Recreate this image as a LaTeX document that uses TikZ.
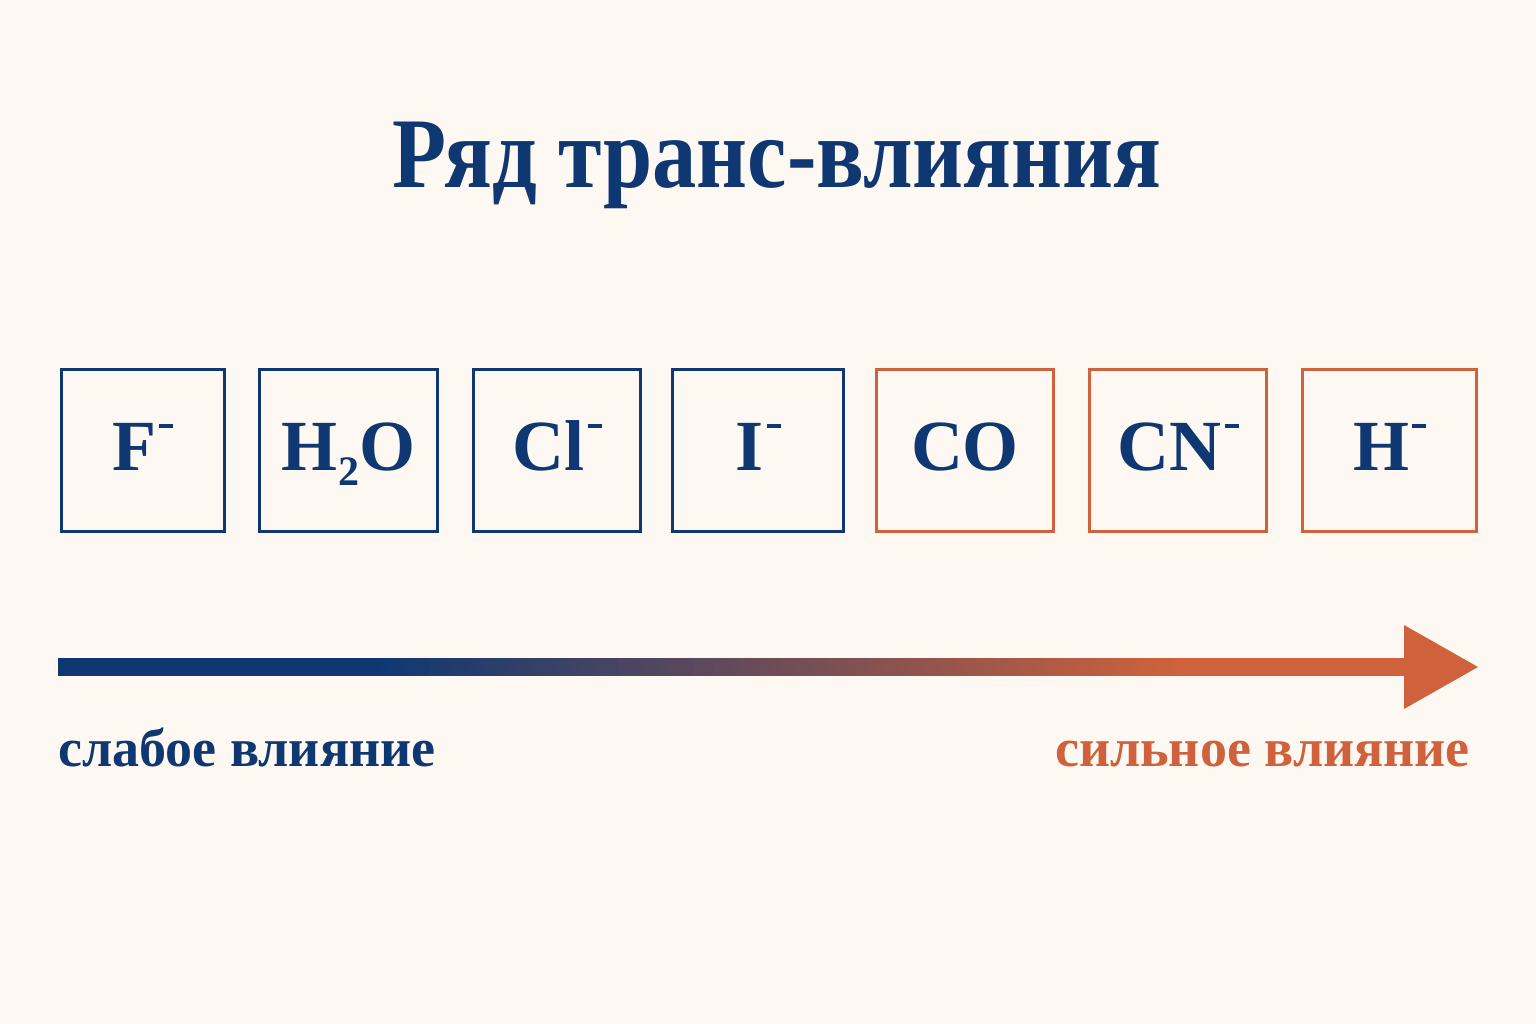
\documentclass[tikz,border=0pt]{standalone}
\usepackage{fontspec}
\setmainfont{Liberation Serif}
\definecolor{bg}{HTML}{FDF9F2}
\definecolor{tblue}{HTML}{0F3872}
\definecolor{torange}{HTML}{CF623C}
\newcommand{\minus}{\hspace{3pt}\rule[42pt]{14pt}{4pt}}
\tikzset{
  lig/.style={draw=#1, line width=3.6pt, minimum height=162pt, inner sep=0pt,
    text height=39pt, text depth=0pt,
    text=tblue, font=\fontsize{72}{72}\selectfont\bfseries},
  lbl/.style={font=\fontsize{54}{54}\selectfont\bfseries, inner sep=0pt}
}
\begin{document}
\begin{tikzpicture}[x=1pt,y=-1pt]
\fill[bg] (0,0) rectangle (1536,1024);
\useasboundingbox (0,0) rectangle (1536,1024);
\node[anchor=base, text=tblue, inner sep=0pt, font=\fontsize{100}{100}\selectfont\bfseries] (title) at (777,188) {\scalebox{0.885}[1]{Ряд транс-влияния}};
\node[lig=tblue, minimum width=163pt] (f) at (143,450.5) {F\minus};
\node[lig=tblue, minimum width=178pt] (h2o) at (348.5,450.5) {H\raisebox{-15pt}{\fontsize{42}{42}\selectfont 2}O};
\node[lig=tblue, minimum width=167pt] (cl) at (557,450.5) {Cl\minus};
\node[lig=tblue, minimum width=171pt] (i) at (758,450.5) {I\minus};
\node[lig=torange, minimum width=177pt] (co) at (965,450.5) {CO};
\node[lig=torange, minimum width=177pt] (cn) at (1178,450.5) {CN\minus};
\node[lig=torange, minimum width=174pt] (h) at (1389.5,450.5) {H\minus};
% gradient shaft
\foreach \k in {0,...,199}{
  \pgfmathsetmacro{\xa}{58+\k*6.75}
  \pgfmathsetmacro{\xm}{\xa+3.4}
  \pgfmathsetmacro{\t}{max(0,min(1,(\xm-380)/800))}
  \pgfmathsetmacro{\p}{100*(1-\t)}
  \fill[tblue!\p!torange] (\xa,658) rectangle (\xa+7.2,676);
}
\coordinate (hb1) at (1404,625);
\coordinate (tip) at (1478,667);
\coordinate (hb2) at (1404,709);
\fill[torange] (hb1) -- (tip) -- (hb2) -- cycle;
\node[lbl, anchor=base west, text=tblue] (weak) at (58,766) {слабое влияние};
\node[lbl, anchor=base east, text=torange] (strong) at (1470,766) {сильное влияние};
\end{tikzpicture}
\end{document}
